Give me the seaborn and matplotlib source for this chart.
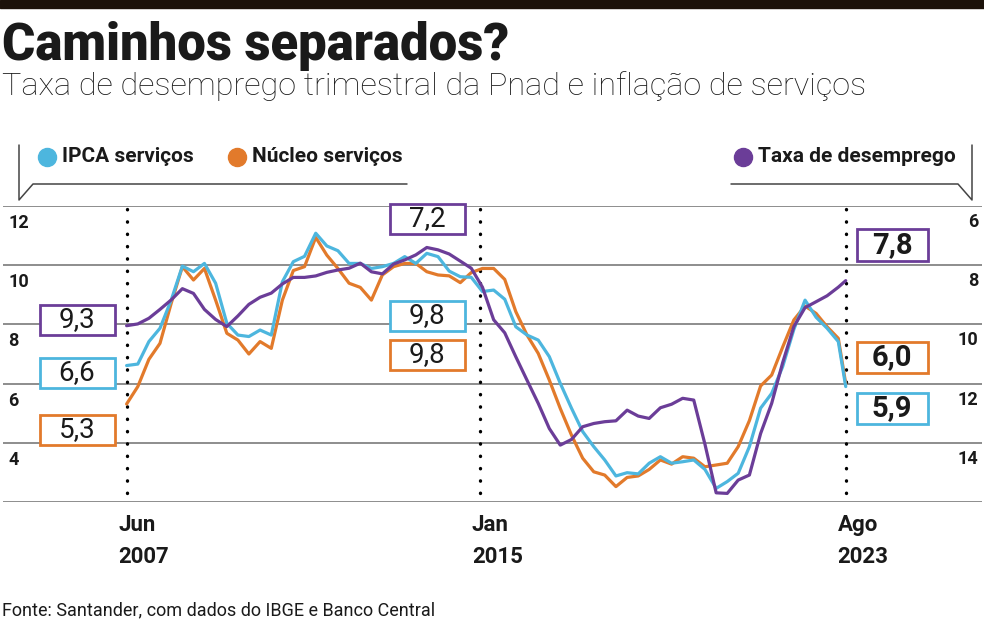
import pandas as pd
import numpy as np
import matplotlib.pyplot as plt
import matplotlib.transforms as mtransforms
from matplotlib import font_manager
from matplotlib.lines import Line2D
from matplotlib.patches import Rectangle
import seaborn as sns

# Data (quarterly readings from Jun 2007, last point Aug 2023)
dates = list(pd.date_range('2007-06-01', '2023-06-01', freq='3MS')) + [pd.Timestamp('2023-08-01')]

ipca_servicos = [6.61, 6.66, 7.42, 7.87, 8.82, 9.97, 9.78, 10.06, 9.39, 8.04, 7.64, 7.59, 7.81, 7.64,
                 9.44, 10.12, 10.30, 11.08, 10.65, 10.49, 10.06, 10.06, 9.89, 9.95, 10.06, 10.29,
                 10.06, 10.40, 10.29, 9.80, 9.61, 9.59, 9.11, 9.16, 8.85, 7.92, 7.64, 7.47, 6.91,
                 6.01, 5.17, 4.38, 3.87, 3.42, 2.88, 2.99, 2.95, 3.31, 3.53, 3.31, 3.36, 3.42, 3.10,
                 2.46, 2.69, 2.97, 3.87, 5.17, 5.67, 6.57, 7.83, 8.82, 8.24, 7.87, 7.42, 5.90]

nucleo_servicos = [5.31, 5.90, 6.82, 7.36, 8.71, 9.95, 9.50, 9.89, 8.82, 7.70, 7.47, 7.00, 7.42, 7.19,
                   8.82, 9.82, 9.95, 10.94, 10.34, 9.89, 9.39, 9.25, 8.82, 9.67, 9.95, 10.06, 10.06,
                   9.78, 9.67, 9.64, 9.41, 9.75, 9.89, 9.89, 9.52, 8.43, 7.64, 7.02, 6.12, 5.16, 4.26,
                   3.48, 3.02, 2.91, 2.52, 2.83, 2.88, 3.10, 3.42, 3.28, 3.53, 3.48, 3.19, 3.25, 3.31,
                   3.87, 4.75, 5.92, 6.29, 7.23, 8.15, 8.62, 8.37, 7.92, 7.53, 6.00]

desemprego = [9.30, 9.24, 9.05, 8.75, 8.43, 8.05, 8.21, 8.75, 9.09, 9.33, 8.97, 8.58, 8.34, 8.20, 7.89,
              7.67, 7.67, 7.62, 7.50, 7.42, 7.36, 7.19, 7.48, 7.55, 7.22, 7.08, 6.91, 6.66, 6.74, 6.88,
              7.12, 7.36, 8.00, 9.10, 9.54, 10.35, 11.14, 11.92, 12.77, 13.33, 13.14, 12.71, 12.60,
              12.54, 12.51, 12.15, 12.35, 12.43, 12.07, 11.95, 11.75, 11.81, 13.30, 14.94, 14.96,
              14.51, 14.34, 12.94, 11.92, 10.55, 9.33, 8.69, 8.49, 8.29, 8.00, 7.78]

left_ticks = [12, 10, 8, 6, 4]
right_ticks = [6, 8, 10, 12, 14]
marker_labels = [('Jun', '2007'), ('Jan', '2015'), ('Ago', '2023')]
# the reference draws the middle marker a little right of Jan 2015
marker_dates = [pd.Timestamp('2007-06-01'), pd.Timestamp('2015-05-10'), pd.Timestamp('2023-08-01')]

# boxed values: start, Jan 2015, last
start_vals = ['9,3', '6,6', '5,3']
mid_vals = ['7,2', '9,8', '9,8']
end_vals = ['7,8', '6,0', '5,9']

c_ipca = '#4db6de'
c_nucleo = '#e27a2b'
c_desemp = '#6b3d98'
c_text = '#1a1a1a'

df = pd.DataFrame({'data': dates, 'ipca': ipca_servicos, 'nucleo': nucleo_servicos, 'desemp': desemprego})

sns.set_style('white')
names = {f.name for f in font_manager.fontManager.ttflist}
narrow = 'Liberation Sans Narrow' if 'Liberation Sans Narrow' in names else 'Roboto'
plt.rcParams['font.family'] = [narrow, 'DejaVu Sans']
plt.rcParams['text.color'] = c_text

W, H = 984, 622
fig = plt.figure(figsize=(W / 100, H / 100), dpi=100)


def fx(x):
    return x / W


def fy(y):
    return 1 - y / H


ax = fig.add_axes([fx(3), fy(502), fx(982) - fx(3), fy(206) - fy(502)])
ax2 = ax.twinx()

for v in [12, 10, 8, 6, 4, 2]:
    ax.axhline(v, color='#858585', lw=1.3, zorder=1)

for d in marker_dates:
    ax.axvline(d, ymin=0.03, ymax=1, color='black', lw=2.4,
               linestyle=(0, (0.1, 3.6)), dash_capstyle='round', zorder=2)

sns.lineplot(data=df, x='data', y='nucleo', ax=ax, color=c_nucleo, lw=2.3, zorder=3)
sns.lineplot(data=df, x='data', y='ipca', ax=ax, color=c_ipca, lw=2.3, zorder=4)
sns.lineplot(data=df, x='data', y='desemp', ax=ax2, color=c_desemp, lw=2.3, zorder=5)

for a in (ax, ax2):
    for s in a.spines.values():
        s.set_visible(False)
    a.set_xlabel('')
    a.set_ylabel('')
    a.set_xticks([])
    a.set_yticks([])
ax.set_ylim(2, 12)
ax2.set_ylim(15.25, 5.26)
ax.set_xlim(pd.Timestamp('2004-08-20'), pd.Timestamp('2026-08-24'))

# y labels, drawn inside the plot
left_tr = mtransforms.offset_copy(ax.get_yaxis_transform(), fig=fig, x=5, y=-8, units='dots')
for v in left_ticks:
    ax.text(0.0, v, str(v), transform=left_tr, ha='left', va='top', fontsize=13, fontweight='bold')
right_tr = mtransforms.offset_copy(ax2.get_yaxis_transform(), fig=fig, x=-4, y=6, units='dots')
for v in right_ticks:
    ax2.text(1.0, v, str(v), transform=right_tr, ha='right', va='center',
             fontsize=13, fontweight='bold')

# x labels under the dotted markers
xl_tr = mtransforms.offset_copy(ax.get_xaxis_transform(), fig=fig, x=-8, units='dots')
for d, (m, yr) in zip(marker_dates, marker_labels):
    ax.text(d, -0.078, m, transform=xl_tr, ha='left', va='center', fontsize=16, fontweight='bold')
    ax.text(d, -0.186, yr, transform=xl_tr, ha='left', va='center', fontsize=16, fontweight='bold')

# top bar, title, subtitle, source
fig.patches.append(Rectangle((0, fy(8)), 1, 1 - fy(8), transform=fig.transFigure,
                             color='#1c120a', zorder=0))
fig.text(fx(2), fy(46), 'Caminhos separados?', fontsize=36.6, fontweight='black', va='center', ha='left')
fig.text(fx(2), fy(86), 'Taxa de desemprego trimestral da Pnad e inflação de serviços',
         fontsize=23.3, fontweight='light', va='center', ha='left')
fig.text(fx(2), fy(610), 'Fonte: Santander, com dados do IBGE e Banco Central',
         fontsize=13, va='center', ha='left')

# legend with brackets
for xs, ys in [([19, 19, 33, 407], [145, 200, 184, 184]),
               ([972, 972, 958, 731], [145, 200, 184, 184])]:
    fig.add_artist(Line2D([fx(x) for x in xs], [fy(y) for y in ys], color='#444444', lw=1.1,
                          transform=fig.transFigure))
for cx, col, lab in [(47, c_ipca, 'IPCA serviços'), (237, c_nucleo, 'Núcleo serviços'),
                     (743, c_desemp, 'Taxa de desemprego')]:
    fig.add_artist(Line2D([fx(cx)], [fy(157)], marker='o', markersize=13, color=col,
                          transform=fig.transFigure))
    fig.text(fx(cx + 15), fy(157), lab, fontsize=15, fontweight='bold', va='center', ha='left')


def value_box(xc, yc, txt, col, bold=False, w=75, h=30):
    fig.patches.append(Rectangle((fx(xc - w / 2), fy(yc + h / 2)), w / W, h / H,
                                 transform=fig.transFigure, facecolor='white',
                                 edgecolor=col, lw=2.0, zorder=10))
    fig.text(fx(xc), fy(yc), txt, ha='center', va='center', fontsize=21 if bold else 20,
             fontweight='bold' if bold else 'normal', zorder=11)


cols = [c_desemp, c_ipca, c_nucleo]
for txt, col, yc in zip(start_vals, cols, [320, 373, 430]):
    value_box(77, yc, txt, col)
for txt, col, yc in zip(mid_vals, cols, [219, 316, 355]):
    value_box(427, yc, txt, col)
for txt, col, yc in zip(end_vals, [c_desemp, c_nucleo, c_ipca], [245, 357, 408]):
    value_box(892, yc, txt, col, bold=True, w=71, h=31)

fig.savefig('out.png', dpi=100)
